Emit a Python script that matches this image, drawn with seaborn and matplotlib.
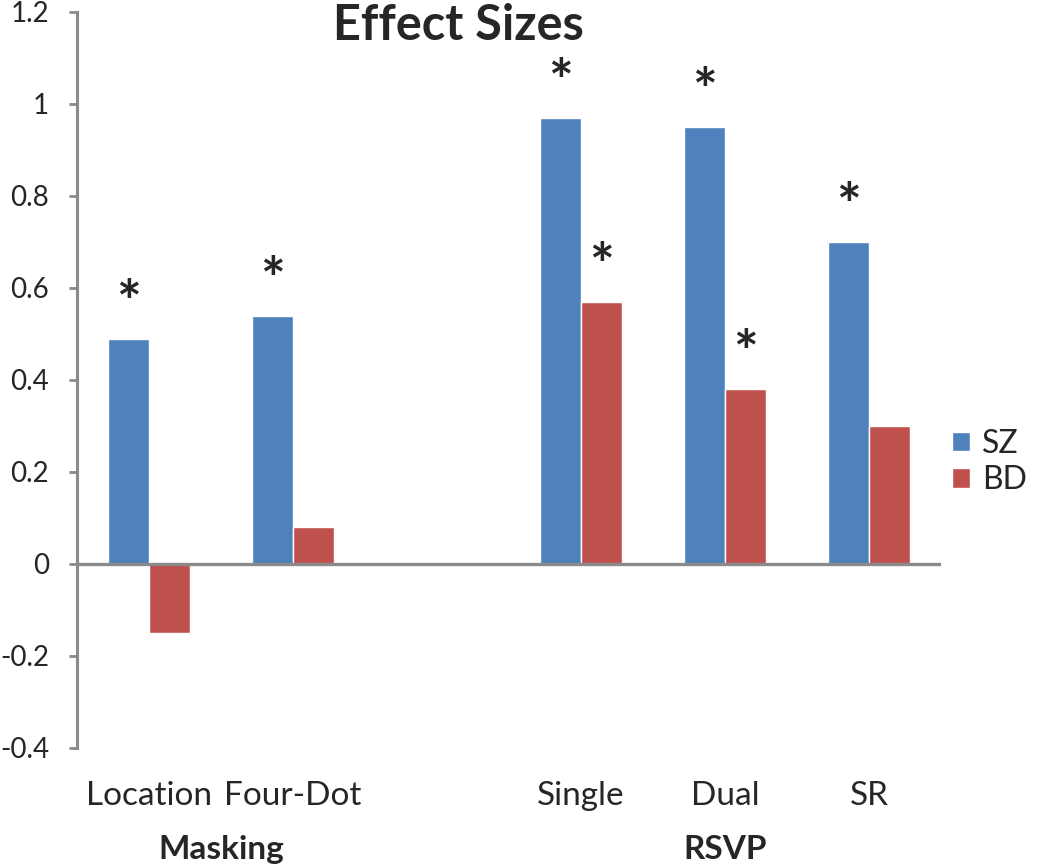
import pandas as pd
import seaborn as sns
import matplotlib.pyplot as plt
import matplotlib.transforms as mtransforms

# data
tasks = ['Location', 'Four-Dot', 'Single', 'Dual', 'SR']
order = ['Location', 'Four-Dot', '', 'Single', 'Dual', 'SR']   # '' = empty slot between groups
sz_values = [0.49, 0.54, 0.97, 0.95, 0.70]
bd_values = [-0.15, 0.08, 0.57, 0.38, 0.30]
sz_signif = [True, True, True, True, True]
bd_signif = [False, False, True, True, False]
groups = ['Masking', 'RSVP']
group_pos = [0.5, 4]
yticks = [-0.4, -0.2, 0, 0.2, 0.4, 0.6, 0.8, 1, 1.2]
ytick_labels = ['-0.4', '-0.2', '0', '0.2', '0.4', '0.6', '0.8', '1', '1.2']

sns.set_style('white')
plt.rcParams['font.family'] = ['Lato', 'DejaVu Sans']

df = pd.DataFrame({
    'task': tasks * 2,
    'value': sz_values + bd_values,
    'group': ['SZ'] * len(tasks) + ['BD'] * len(tasks),
})

gray = '#8a8a8a'
colors = {'SZ': '#4f81bd', 'BD': '#c0504d'}

fig = plt.figure(figsize=(10.5, 8.65), dpi=100)
ax = fig.add_axes([77 / 1050, 1 - 748 / 865, 864 / 1050, 736 / 865])

sns.barplot(data=df, x='task', y='value', hue='group', order=order,
            hue_order=['SZ', 'BD'], palette=colors, width=0.57, gap=0,
            saturation=1, ax=ax, legend=True)

ax.set_ylim(-0.4, 1.2)
ax.set_xlim(-0.5, len(order) - 0.5)
ax.set_yticks(yticks)
ax.set_yticklabels(ytick_labels, fontsize=20)
ax.set_xlabel('')
ax.set_ylabel('')
ax.tick_params(axis='y', length=6, width=2, color=gray, pad=14, direction='out', left=True)
ax.tick_params(axis='x', length=0, pad=24, labelsize=24)

for s in ['top', 'right', 'bottom']:
    ax.spines[s].set_visible(False)
ax.spines['left'].set_color(gray)
ax.spines['left'].set_linewidth(2.2)
ax.axhline(0, color=gray, lw=2.4, zorder=3)

# significance stars
for cont, flags in zip(ax.containers, [sz_signif, bd_signif]):
    for bar, flag in zip(cont, flags):
        if not flag:
            continue
        top = max(bar.get_y() + bar.get_height(), bar.get_y())
        ax.annotate('*', (bar.get_x() + bar.get_width() / 2, top),
                    xytext=(0, 24), textcoords='offset points',
                    ha='center', va='center', fontsize=42, fontweight='bold')

# group labels under the tick labels
trans = mtransforms.blended_transform_factory(ax.transData, ax.transAxes)
for g, pos in zip(groups, group_pos):
    ax.text(pos, -0.118, g, transform=trans, ha='center', va='top',
            fontsize=24, fontweight='bold')

fig.text(458 / 1050, 1 - 25 / 865, 'Effect Sizes', ha='center', va='center',
         fontsize=35, fontweight='bold')

handles, labels = ax.get_legend_handles_labels()
ax.get_legend().remove()
fig.legend(handles, labels, loc='center left', bbox_to_anchor=(952 / 1050, 1 - 462 / 865),
           frameon=False, fontsize=23, handlelength=0.55, handleheight=0.55,
           handletextpad=0.4, labelspacing=0.2, borderpad=0, borderaxespad=0)

plt.savefig('out.png', dpi=100)
